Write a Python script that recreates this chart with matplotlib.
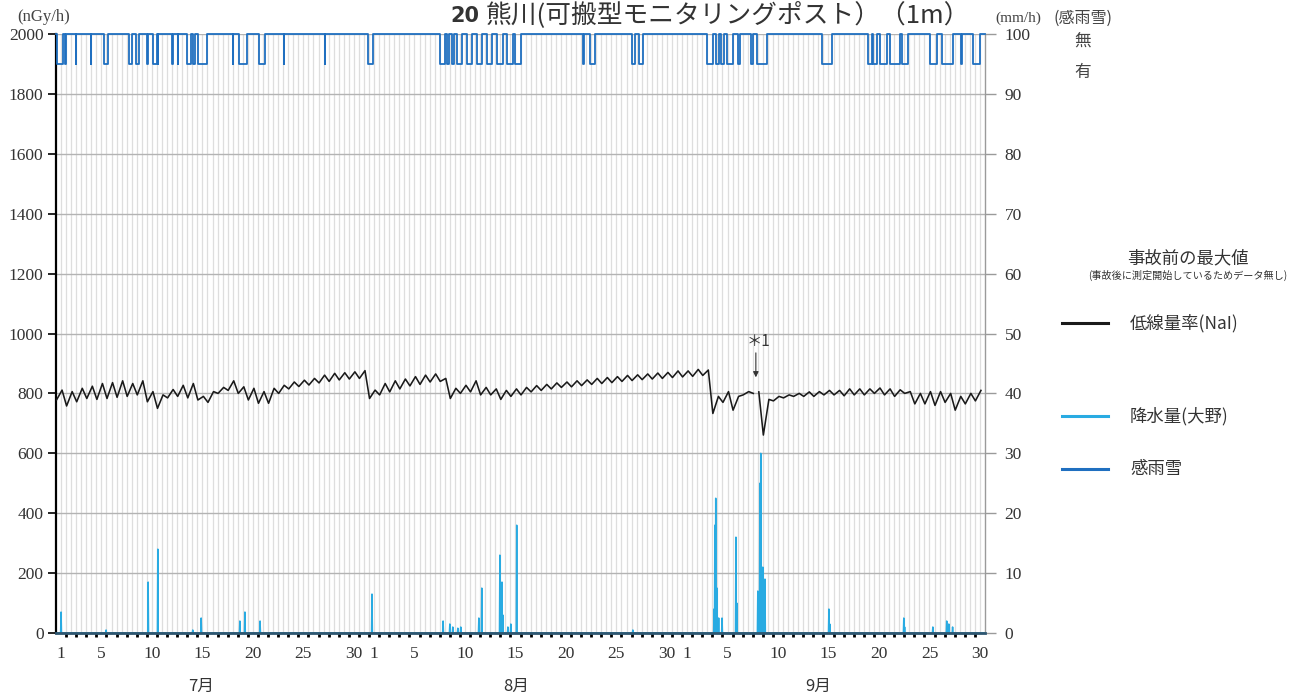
import numpy as np
import matplotlib
matplotlib.use("Agg")
import matplotlib.pyplot as plt

W, H, DPI = 1315, 697, 100
JP = ["Noto Sans CJK JP", "DejaVu Sans"]
NUM = ["Liberation Serif", "Noto Sans CJK JP"]

# ---------------- data ----------------
month_labels = ["7月", "8月", "9月"]
month_days = [31, 31, 30]
day_labels = [1, 5, 10, 15, 20, 25, 30]

# daily low (around 0h) and high (around 14h) of dose rate, nGy/h, Jul 1 .. Sep 30
dose_low = [778, 758, 772, 783, 780, 783, 787, 790, 795, 772,
            750, 785, 790, 785, 778, 770, 800, 810, 800, 778,
            767, 767, 800, 815, 823, 828, 835, 840, 845, 848, 850,
            783, 795, 805, 815, 825, 830, 838, 840, 783, 800,
            805, 795, 795, 780, 790, 795, 805, 810, 815, 820,
            822, 826, 830, 833, 836, 840, 843, 846, 848, 850, 853,
            855, 857, 860, 733, 770, 744, 795, 800, 661, 775,
            785, 790, 790, 790, 795, 795, 792, 795, 795, 800,
            795, 790, 800, 765, 765, 760, 770, 744, 765, 775]
dose_high = [811, 806, 817, 824, 833, 836, 842, 833, 842, 806,
             795, 813, 827, 833, 790, 806, 820, 842, 822, 817,
             806, 817, 827, 838, 844, 850, 861, 867, 869, 872, 876,
             811, 833, 842, 848, 856, 861, 865, 850, 817, 827,
             842, 820, 815, 810, 815, 820, 826, 830, 835, 838,
             842, 845, 850, 853, 856, 860, 862, 865, 868, 870, 875,
             875, 880, 878, 790, 806, 790, 806, 805, 780, 790,
             795, 800, 805, 806, 810, 810, 815, 815, 815, 818,
             815, 812, 806, 800, 806, 806, 800, 790, 800, 810]
dose_gap_day = 69.3   # missing data (*1)

# hourly precipitation at Ono (mm/h): time in days from Jul 1 00:00
precip_day = [0.50, 4.95, 9.11, 10.10, 13.56, 14.36, 18.22, 18.71, 20.20,
              31.29, 38.32, 39.01, 39.31, 39.80, 40.10, 41.88, 42.18,
              43.96, 44.16, 44.26, 44.75, 45.05, 45.64, 57.13,
              65.15, 65.25, 65.35, 65.45, 65.64, 65.94, 67.33, 67.43,
              69.50, 69.70, 69.80, 70.00, 70.20, 76.53, 76.63,
              83.96, 84.06, 86.83, 88.22, 88.42, 88.81]
precip_mm = [3.5, 0.5, 8.5, 14.0, 0.5, 2.5, 2.0, 3.5, 2.0,
             6.5, 2.0, 1.5, 1.0, 0.8, 1.0, 2.5, 7.5,
             13.0, 8.5, 3.0, 1.0, 1.5, 18.0, 0.5,
             4.0, 18.0, 22.5, 7.5, 2.5, 2.5, 16.0, 5.0,
             7.0, 25.0, 30.0, 11.0, 9.0, 4.0, 1.5,
             2.5, 1.0, 1.0, 2.0, 1.5, 1.0]

# rain/snow sensing periods (start, end) in days from Jul 1 00:00
rain_start = [0.10, 0.85, 1.95, 3.43, 4.75, 7.23, 7.92, 9.01, 9.60, 10.06,
              11.49, 12.04, 12.97, 13.56, 14.06, 17.48, 18.12, 20.10, 22.53,
              26.59, 30.89, 38.02, 38.71, 39.21, 39.70, 40.69, 41.68, 42.67,
              43.66, 44.65, 45.45, 52.18, 52.87, 57.03, 57.72, 64.46, 65.35,
              65.84, 66.44, 67.52, 68.81, 69.41, 75.84, 80.40, 80.89, 81.58,
              82.57, 83.76, 86.53, 87.72, 89.65, 90.79]
rain_end = [0.69, 0.95, 2.02, 3.51, 5.15, 7.52, 8.22, 9.11, 10.00, 10.14,
            11.58, 12.12, 13.37, 13.76, 14.95, 17.56, 18.91, 20.69, 22.61,
            26.67, 31.39, 38.51, 38.91, 39.41, 40.20, 41.19, 42.18, 43.17,
            44.26, 45.25, 46.04, 52.28, 53.37, 57.33, 58.12, 65.05, 65.64,
            66.14, 67.03, 67.72, 69.01, 70.40, 76.83, 80.79, 81.29, 82.28,
            83.56, 84.36, 87.23, 88.81, 89.75, 91.49]

# ---------------- build series ----------------
ndays = sum(month_days)
t_dose, v_dose = [], []
for d in range(ndays):
    t_dose += [d + 0.05, d + 0.6]
    v_dose += [dose_low[d], dose_high[d]]
t_dose = np.array(t_dose, dtype=float)
v_dose = np.array(v_dose, dtype=float)
ins = np.searchsorted(t_dose, dose_gap_day)
t_dose = np.insert(t_dose, ins, dose_gap_day)
v_dose = np.insert(v_dose, ins, np.nan)

t_hr = np.arange(0, ndays * 24 + 1) / 24.0
p_hr = np.zeros_like(t_hr)
for d, mm in zip(precip_day, precip_mm):
    p_hr[int(round(d * 24))] = mm

rx, ry = [0.0], [2000]
for s, e in zip(rain_start, rain_end):
    rx += [s, s, e, e]
    ry += [2000, 1900, 1900, 2000]
rx.append(float(ndays)); ry.append(2000)

# ---------------- figure ----------------
fig = plt.figure(figsize=(W / DPI, H / DPI), dpi=DPI)
L, R, B, T = 56, 985, 633, 34
ax = fig.add_axes([L / W, 1 - B / H, (R - L) / W, (B - T) / H])
ax2 = ax.twinx()
ax.set_zorder(ax2.get_zorder() + 1)
ax.patch.set_visible(False)

ax.set_xlim(0, ndays)
ax.set_ylim(0, 2000)
ax2.set_ylim(0, 100)

# grid
for x in np.arange(0.5, ndays, 0.5):
    ax2.axvline(x, color="#dedede", lw=0.9, zorder=0)
for y in range(200, 2001, 200):
    ax2.axhline(y / 20, color="#b3b3b3", lw=1.0, zorder=0.5)

# series
ax2.plot(t_hr, p_hr, color="#29abe2", lw=1.1, zorder=2)
ax.plot(t_dose, v_dose, color="#1a1a1a", lw=1.15, zorder=3)
ax.plot(rx, ry, color="#1f6fc0", lw=1.3, zorder=4, clip_on=False)

# axes styling
ax.spines["top"].set_visible(False)
ax2.spines["top"].set_visible(False)
ax.spines["right"].set_visible(False)
ax2.spines["left"].set_visible(False)
ax2.spines["bottom"].set_visible(False)
ax.spines["left"].set_color("black")
ax.spines["left"].set_linewidth(1.6)
ax.spines["bottom"].set_color("#2e5670")
ax.spines["bottom"].set_linewidth(2.0)
ax2.spines["right"].set_color("#9a9a9a")
ax2.spines["right"].set_linewidth(1.0)

ax.set_yticks(range(0, 2001, 200))
ax.tick_params(axis="y", direction="out", length=6, width=1.2, color="black",
               labelsize=12.5, pad=3, labelcolor="#333333")
for lab in ax.get_yticklabels():
    lab.set_family(NUM)
ax2.set_yticks(range(0, 101, 10))
ax2.tick_params(axis="y", direction="out", length=8, width=1, color="#9a9a9a",
                labelsize=12.5, pad=6, labelcolor="#333333")
for lab in ax2.get_yticklabels():
    lab.set_family(NUM)

# x ticks: labels at day centres, small marks at day boundaries
pos, labs = [], []
start = 0
for md in month_days:
    for dl in day_labels:
        if dl <= md:
            pos.append(start + dl - 0.5)
            labs.append(str(dl))
    start += md
ax.set_xticks(pos)
ax.set_xticklabels(labs, family=NUM)
ax.set_xticks(np.arange(1, ndays), minor=True)
ax.tick_params(axis="x", which="major", length=0, labelsize=12.5, pad=9,
               labelcolor="#333333")
ax.tick_params(axis="x", which="minor", direction="out", length=3, width=2,
               color="black")

# month labels
month_x = [14.4, 45.6, 75.5]
for mx, ml in zip(month_x, month_labels):
    ax.text(mx, -0.089, ml, transform=ax.get_xaxis_transform(), ha="center",
            va="center", fontsize=12, family=JP, color="#333333")

# texts
def ftext(x, y, s, **kw):
    fig.text(x / W, 1 - y / H, s, **kw)

ftext(479, 16, "20", ha="right", va="center", fontsize=15, family="DejaVu Sans",
      weight="bold", color="#333333")
ftext(486, 15, "熊川(可搬型モニタリングポスト）（1m）", ha="left", va="center",
      fontsize=18.5, family=JP, color="#333333")
ftext(44, 17, "(nGy/h)", ha="center", va="center", fontsize=12, family=NUM,
      color="#444444")
ftext(1018, 18, "(mm/h)", ha="center", va="center", fontsize=11, family=NUM,
      color="#444444")
ftext(1083, 18, "(感雨雪)", ha="center", va="center", fontsize=11.5, family=JP,
      color="#444444")
ftext(1083, 41, "無", ha="center", va="center", fontsize=12, family=JP,
      color="#444444")
ftext(1083, 72, "有", ha="center", va="center", fontsize=12, family=JP,
      color="#444444")
ftext(1188, 258, "事故前の最大値", ha="center", va="center", fontsize=12.5,
      family=JP, color="#333333")
ftext(1188, 275, "(事故後に測定開始しているためデータ無し)", ha="center",
      va="center", fontsize=7.3, family=JP, color="#333333")
ftext(758, 341, "＊1", ha="center", va="center", fontsize=11, family=JP,
      color="#333333")
ax.annotate("", xy=((756 - L) / 10.1, 800 + (393.3 - 380) / 0.2995),
            xytext=((756 - L) / 10.1, 800 + (393.3 - 350) / 0.2995),
            arrowprops=dict(arrowstyle="-|>", color="#333333", lw=0.8,
                            mutation_scale=8), zorder=6)

legend_items = [("低線量率(NaI)", "#1a1a1a", 323),
                ("降水量(大野)", "#29abe2", 416),
                ("感雨雪", "#1f6fc0", 469)]
for label, col, yy in legend_items:
    fig.add_artist(plt.Line2D([1062 / W, 1108 / W], [1 - yy / H, 1 - yy / H],
                              color=col, lw=2.2))
    ftext(1130, yy, label, ha="left", va="center", fontsize=12.5, family=JP,
          color="#333333")

fig.savefig("out.png", dpi=DPI)
